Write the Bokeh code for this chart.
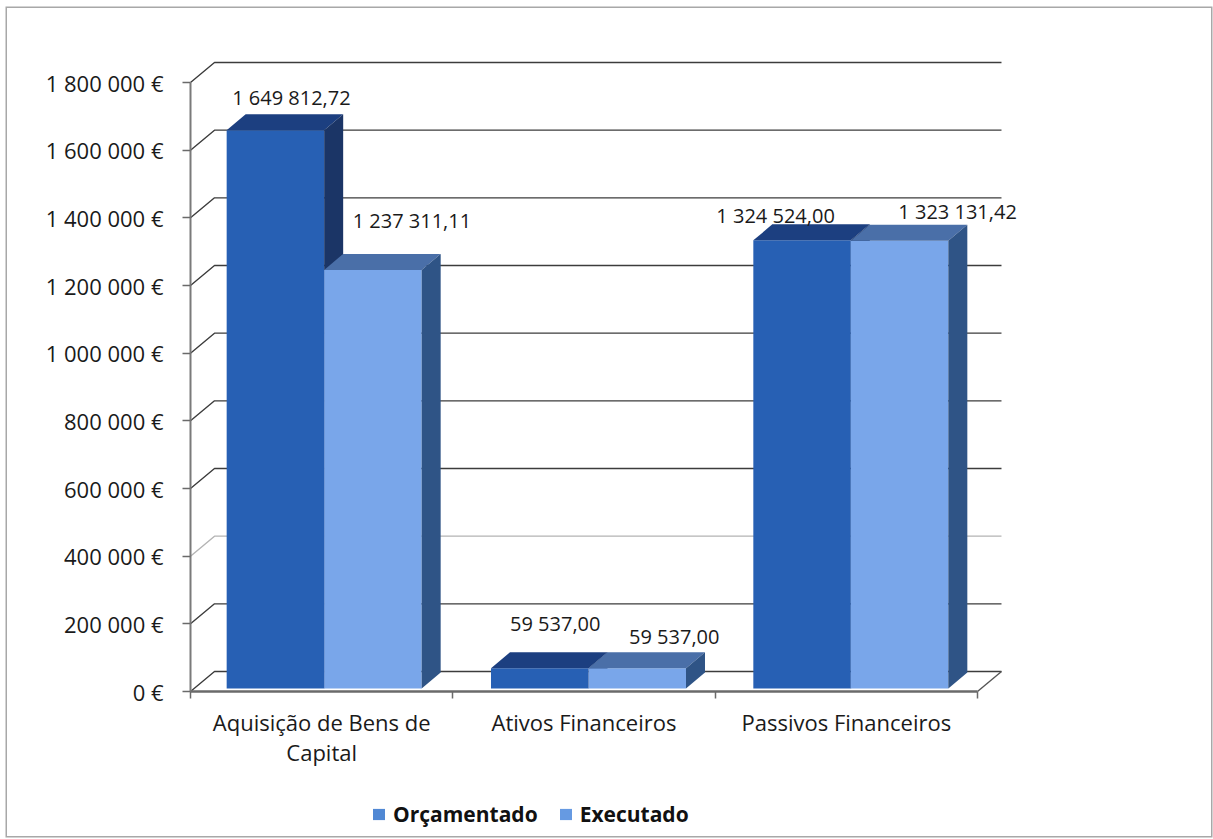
from bokeh.plotting import figure
from bokeh.models import Range1d, FixedTicker, Legend, LegendItem, ColumnDataSource
from bokeh.embed import file_html
from bokeh.resources import INLINE

# --- data ---
categories = ["Aquisição de Bens de\nCapital", "Ativos Financeiros", "Passivos Financeiros"]
orcamentado = [1649812.72, 59537.00, 1324524.00]
executado = [1237311.11, 59537.00, 1323131.42]
orcamentado_labels = ["1 649 812,72", "59 537,00", "1 324 524,00"]
executado_labels = ["1 237 311,11", "59 537,00", "1 323 131,42"]
y_ticks = [0, 200000, 400000, 600000, 800000, 1000000, 1200000, 1400000, 1600000, 1800000]
y_tick_labels = ["0 €", "200 000 €", "400 000 €", "600 000 €", "800 000 €", "1 000 000 €",
                 "1 200 000 €", "1 400 000 €", "1 600 000 €", "1 800 000 €"]
series_names = ["Orçamentado", "Executado"]

# --- layout (pixels) ---
OX, OY = 7, 8                            # panel origin on the page
W, H = 1204, 828
X0, Y0 = 190 - OX, 691 - OY              # where x=0 and y=0 fall in the figure
PX_CAT = 262.33                          # pixels per category
PX_VAL = 609 / 1800000                   # pixels per euro
FONT = "Open Sans"
INK = "#1a1a1a"


def cx(px):
    return px / PX_CAT


def vy(px):
    return px / PX_VAL


GRID_DX, GRID_DY = cx(24), vy(20)
BAR_DX, BAR_DY = cx(19), vy(16)
BAR_W = cx(97.5)
BAR_BASE = vy(3)
GROUP_SHIFT = [cx(2.5), cx(4.5), cx(4.5)]

p = figure(width=W, height=H, output_backend="svg", toolbar_location=None,
           x_range=Range1d(-X0 / PX_CAT, (W - X0) / PX_CAT), y_range=Range1d(-(H - Y0) / PX_VAL, Y0 / PX_VAL),
           min_border=0,
           styles={"margin-left": f"{OX}px", "margin-top": f"{OY}px", "box-shadow": "0 0 0 1.5px #a8a8a8"})
p.outline_line_color = None
p.background_fill_color = "white"
p.border_fill_color = "white"
p.xgrid.visible = False
p.ygrid.visible = False

# walls / gridlines (the 400 000 line is faint in the scan)
gx, gy, gc = [], [], []
for v in y_ticks:
    gx.append([0, GRID_DX, 3 + GRID_DX])
    gy.append([v, v + GRID_DY, v + GRID_DY])
    gc.append("#b4b4b4" if v == 400000 else "#3c3c3c")
p.multi_line(gx, gy, line_color=gc, line_width=1.4)
p.line([3, 3 + GRID_DX], [0, GRID_DY], line_color="#555555", line_width=1.4)


def bar_left(i, s):
    return i + (PX_CAT - 2 * 97.5) / 2 / PX_CAT + GROUP_SHIFT[i] + s * BAR_W


# bars
palette = [
    {"front": "#2760b4", "top": "#1c3f80", "side": "#1b3566"},
    {"front": "#79a6ea", "top": "#4a6fa8", "side": "#2f5486"},
]
for s, values in enumerate([orcamentado, executado]):
    c = palette[s]
    lefts = [bar_left(i, s) for i in range(3)]
    rights = [l + BAR_W for l in lefts]
    tops = [BAR_BASE + v for v in values]
    p.quad(left=lefts, right=rights, bottom=[BAR_BASE] * 3, top=tops,
           fill_color=c["front"], line_color=None)
    p.patches([[l, l + BAR_DX, r + BAR_DX, r] for l, r in zip(lefts, rights)],
              [[t, t + BAR_DY, t + BAR_DY, t] for t in tops],
              fill_color=c["top"], line_color=None)
    p.patches([[r, r + BAR_DX, r + BAR_DX, r] for r in rights],
              [[BAR_BASE, BAR_BASE + BAR_DY, t + BAR_DY, t] for t in tops],
              fill_color=c["side"], line_color=None)

# data labels, hand-placed as in the reference
label_offsets = [[(16, -33), (15.5, -45), (-26.5, -25)], [(39, -49), (37, -32), (58, -29)]]
for s, (values, texts) in enumerate([(orcamentado, orcamentado_labels), (executado, executado_labels)]):
    src = ColumnDataSource(dict(
        x=[bar_left(i, s) + BAR_W / 2 for i in range(3)],
        y=[BAR_BASE + v for v in values],
        t=texts,
        dx=[o[0] for o in label_offsets[s]],
        dy=[o[1] for o in label_offsets[s]],
    ))
    p.text("x", "y", text="t", x_offset="dx", y_offset="dy", source=src, text_align="center",
           text_baseline="middle", text_font={"value": FONT}, text_font_size="20px", text_color=INK)

# axes
yax = p.yaxis[0]
yax.fixed_location = 0
yax.bounds = (0, 1800000)
yax.ticker = FixedTicker(ticks=y_ticks)
yax.major_label_overrides = dict(zip(y_ticks, y_tick_labels))
yax.major_label_text_font = FONT
yax.major_label_text_font_size = "22px"
yax.major_label_text_color = INK
yax.major_label_standoff = 19
yax.major_tick_in = 0
yax.major_tick_out = 8
yax.minor_tick_line_color = None
yax.axis_line_color = "#7a7a7a"
yax.axis_line_width = 2
yax.major_tick_line_color = "#6a6a6a"
yax.major_tick_line_width = 1.5

xax = p.xaxis[0]
xax.fixed_location = 0
xax.bounds = (0, 3)
centers = [0.5, 1.5, 2.5]
xax.ticker = FixedTicker(ticks=centers, minor_ticks=[0, 1, 2, 3])
xax.major_label_overrides = dict(zip(centers, categories))
xax.major_label_text_font = FONT
xax.major_label_text_font_size = "22px"
xax.major_label_text_color = INK
xax.major_label_text_line_height = 1.0
xax.major_label_standoff = 8
xax.major_tick_line_color = None
xax.minor_tick_in = 0
xax.minor_tick_out = 7
xax.minor_tick_line_color = "#6a6a6a"
xax.minor_tick_line_width = 1.5
xax.axis_line_color = "#6a6a6a"
xax.axis_line_width = 2.5

# legend (keys carry no visible mark of their own)
nan = float("nan")
k0 = p.quad(left=[nan], right=[nan], bottom=[nan], top=[nan], fill_color="#5088d4", line_color=None)
k1 = p.quad(left=[nan], right=[nan], bottom=[nan], top=[nan], fill_color="#669ae2", line_color=None)
legend = Legend(items=[LegendItem(label=series_names[0], renderers=[k0]),
                       LegendItem(label=series_names[1], renderers=[k1])],
                orientation="horizontal", location=(364, 8), background_fill_alpha=0,
                border_line_color=None, padding=0, margin=0, spacing=20,
                glyph_width=15, glyph_height=14, label_standoff=7,
                label_text_font=FONT, label_text_font_size="21px", label_text_font_style="bold",
                label_text_color="#111111")
p.add_layout(legend, "center")

open("out.html", "w").write(file_html(p, INLINE))
